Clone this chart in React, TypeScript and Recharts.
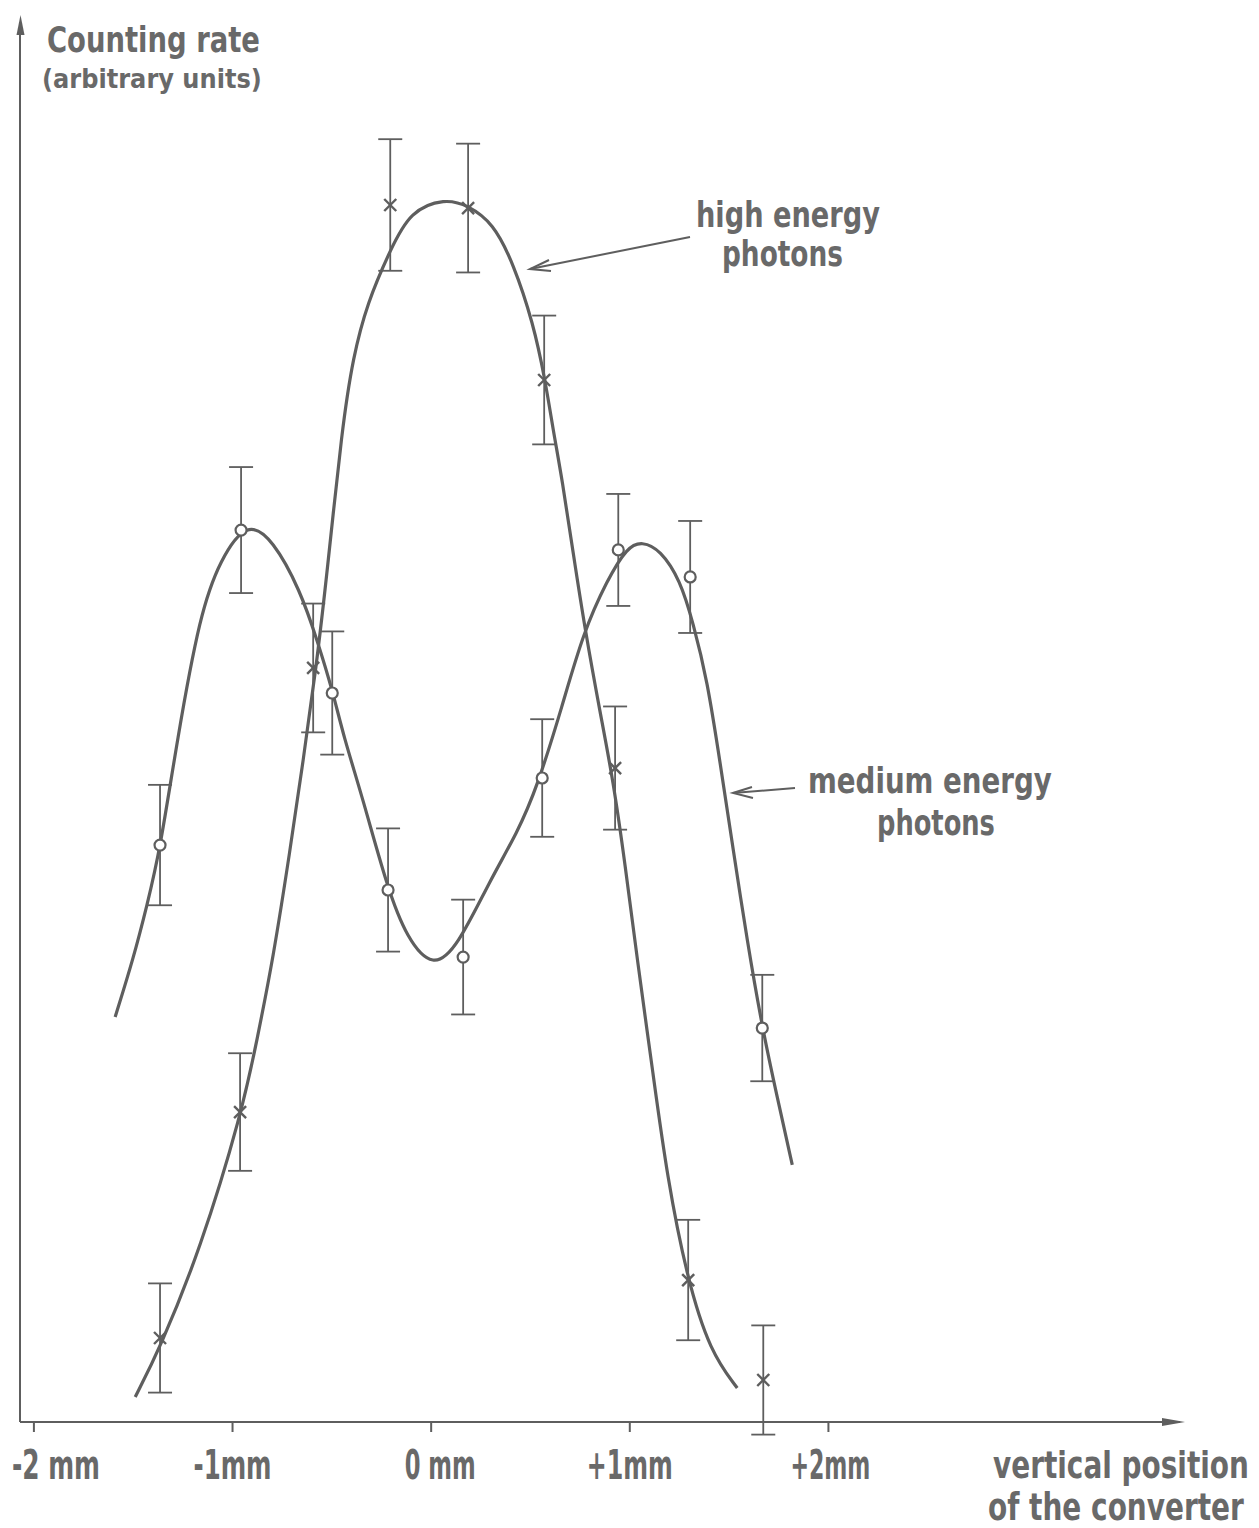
import React, { useLayoutEffect, useRef, useState } from 'react';
import { ComposedChart, Line, Scatter, XAxis, YAxis, ErrorBar } from 'recharts';

// ---------- data (x in mm, y in arbitrary units) ----------
const X_TICKS = [-2, -1, 0, 1, 2];
const X_TICK_LABELS = ['-2 mm', '-1mm', '0 mm', '+1mm', '+2mm'];

// high energy photons – measured points (× markers)
const HIGH_X = [-1.365, -0.962, -0.594, -0.206, 0.186, 0.569, 0.926, 1.294, 1.672];
const HIGH_Y = [6.0, 22.14, 53.86, 86.93, 86.71, 74.43, 46.71, 10.14, 3.0];
const HIGH_ERR = [3.9, 4.2, 4.6, 4.7, 4.6, 4.6, 4.4, 4.3, 3.9];

// medium energy photons – measured points (o markers)
const MED_X = [-1.365, -0.957, -0.498, -0.217, 0.161, 0.559, 0.942, 1.304, 1.667];
const MED_Y = [41.21, 63.71, 52.07, 38.0, 33.21, 46.0, 62.29, 60.36, 28.14];
const MED_ERR = [4.3, 4.5, 4.4, 4.4, 4.1, 4.2, 4.0, 4.0, 3.8];

// fitted curves
const HIGH_CURVE_X = [-1.49, -1.365, -1.163, -0.952, -0.876, -0.796, -0.71, -0.644, -0.579, -0.524, -0.448, -0.393, -0.322, -0.206, -0.106, 0.07, 0.186, 0.312, 0.413, 0.514, 0.574, 0.614, 0.66, 0.715, 0.775, 0.851, 0.916, 0.977, 1.037, 1.118, 1.188, 1.289, 1.405, 1.541];
const HIGH_CURVE_Y = [1.79, 5.29, 12.29, 22.14, 27.36, 33.07, 40.86, 47.29, 53.86, 60.64, 71.07, 76.07, 79.93, 83.71, 86.5, 87.4, 86.9, 85.64, 82.79, 78.5, 74.43, 70.86, 67.29, 62.07, 56.57, 50.64, 45.86, 39.79, 33.07, 24.79, 17.5, 10.21, 5.0, 2.43];

const MED_CURVE_X = [-1.591, -1.5, -1.43, -1.365, -1.279, -1.163, -1.062, -0.926, -0.796, -0.66, -0.574, -0.493, -0.443, -0.342, -0.222, -0.121, 0.01, 0.131, 0.297, 0.433, 0.534, 0.66, 0.765, 0.886, 0.987, 1.062, 1.153, 1.254, 1.319, 1.39, 1.455, 1.521, 1.591, 1.667, 1.742, 1.818];
const MED_CURVE_Y = [28.93, 33.07, 36.93, 40.86, 48.71, 57.79, 61.6, 64.4, 63.0, 59.43, 55.86, 52.07, 49.07, 44.43, 38.21, 34.5, 32.4, 33.9, 38.71, 42.07, 45.36, 51.14, 56.36, 60.14, 62.5, 62.9, 62.3, 60.14, 57.07, 53.0, 47.07, 40.86, 34.36, 28.14, 23.21, 18.36];

// ---------- tables built from the arrays ----------
const highPoints = HIGH_X.map((x, i) => ({ x, y: HIGH_Y[i], err: HIGH_ERR[i] }));
const medPoints = MED_X.map((x, i) => ({ x, y: MED_Y[i], err: MED_ERR[i] }));
const highCurve = HIGH_CURVE_X.map((x, i) => ({ x, y: HIGH_CURVE_Y[i] }));
const medCurve = MED_CURVE_X.map((x, i) => ({ x, y: MED_CURVE_Y[i] }));

// ---------- style ----------
const INK = '#5e5e5e';
const TEXT = '#696969';
const FONT = "'DejaVu Sans Condensed', 'DejaVu Sans', sans-serif";
const TICK_DX = [22, 0, 9, 0, 2];
const TICK_W = [88, 78, 71, 86, 80];

const W = 1243;
const H = 1512;
const PAGE_H = 1520;

// text squeezed horizontally to a given width (narrow lettering of the original)
const FitText = ({ x, y, w, size, anchor = 'start', children }: any) => {
  const ref = useRef<SVGTextElement>(null);
  const [s, setS] = useState(1);
  useLayoutEffect(() => {
    const el = ref.current;
    if (el) {
      const nat = el.getComputedTextLength();
      if (nat > 0) setS(w / nat);
    }
  }, [w, size, children]);
  return (
    <text
      ref={ref}
      transform={`translate(${x},${y}) scale(${s},1)`}
      x={0}
      y={0}
      textAnchor={anchor}
      fontFamily={FONT}
      fontWeight="bold"
      fontSize={size}
      fill={TEXT}
    >
      {children}
    </text>
  );
};

const XMark = (props: any) => {
  const { cx, cy } = props;
  if (cx == null || cy == null) return null;
  const s = 6;
  return (
    <g stroke={INK} strokeWidth={2.4}>
      <line x1={cx - s} y1={cy - s} x2={cx + s} y2={cy + s} />
      <line x1={cx - s} y1={cy + s} x2={cx + s} y2={cy - s} />
    </g>
  );
};

const OMark = (props: any) => {
  const { cx, cy } = props;
  if (cx == null || cy == null) return null;
  return <circle cx={cx} cy={cy} r={5.5} fill="#ffffff" stroke={INK} strokeWidth={2.2} />;
};

const Tick = (props: any) => {
  const { x, y, payload } = props;
  const i = X_TICKS.indexOf(payload.value);
  if (i < 0) return null;
  return (
    <FitText x={x + TICK_DX[i]} y={y + 45} w={TICK_W[i]} size={40} anchor="middle">
      {X_TICK_LABELS[i]}
    </FitText>
  );
};

export default function App() {
  return (
    <div style={{ position: 'relative', width: W, height: PAGE_H, background: '#ffffff' }}>
      <ComposedChart
        width={W}
        height={H}
        margin={{ top: 14, right: 71, bottom: 38, left: 11 }}
      >
        <XAxis
          dataKey="x"
          type="number"
          domain={[-2.07, 3.77]}
          ticks={X_TICKS}
          allowDataOverflow
          height={60}
          tickSize={10}
          axisLine={{ stroke: INK, strokeWidth: 2 }}
          tickLine={{ stroke: INK, strokeWidth: 2 }}
          tick={<Tick />}
        />
        <YAxis
          dataKey="y"
          type="number"
          domain={[0, 100]}
          allowDataOverflow
          width={1}
          tick={false}
          tickLine={false}
          axisLine={{ stroke: INK, strokeWidth: 2 }}
        />
        <Line
          data={highCurve}
          dataKey="y"
          type="basis"
          stroke={INK}
          strokeWidth={3.2}
          dot={false}
          activeDot={false}
          isAnimationActive={false}
        />
        <Line
          data={medCurve}
          dataKey="y"
          type="basis"
          stroke={INK}
          strokeWidth={3.2}
          dot={false}
          activeDot={false}
          isAnimationActive={false}
        />
        <Scatter data={highPoints} dataKey="y" shape={<XMark />} isAnimationActive={false}>
          <ErrorBar dataKey="err" direction="y" width={12} stroke={INK} strokeWidth={1.8} />
        </Scatter>
        <Scatter data={medPoints} dataKey="y" shape={<OMark />} isAnimationActive={false}>
          <ErrorBar dataKey="err" direction="y" width={12} stroke={INK} strokeWidth={1.8} />
        </Scatter>
      </ComposedChart>

      <svg
        width={W}
        height={PAGE_H}
        style={{ position: 'absolute', left: 0, top: 0, pointerEvents: 'none' }}
      >
        {/* axis arrowheads */}
        <polygon points="12.5,7 8.5,27 16.5,27" fill={INK} />
        <polygon points="1177,1414 1154,1410 1154,1418" fill={INK} />

        {/* annotation arrows */}
        <g stroke={INK} strokeWidth={2} fill="none">
          <line x1={682} y1={229} x2={522} y2={261} />
          <polyline points="541,252 522,261 543,263" />
          <line x1={787} y1={780} x2={725} y2={785} />
          <polyline points="744,779 725,785 745,790" />
        </g>

        <FitText x={39} y={44} w={213} size={36}>Counting rate</FitText>
        <FitText x={34} y={80} w={220} size={27}>(arbitrary units)</FitText>

        <FitText x={688} y={219} w={184} size={35}>high energy</FitText>
        <FitText x={714} y={258} w={121} size={35}>photons</FitText>

        <FitText x={800} y={785} w={244} size={35}>medium energy</FitText>
        <FitText x={869} y={827} w={118} size={35}>photons</FitText>

        <FitText x={985} y={1470} w={256} size={37}>vertical position</FitText>
        <FitText x={980} y={1512} w={256} size={37}>of the converter</FitText>
      </svg>
    </div>
  );
}
